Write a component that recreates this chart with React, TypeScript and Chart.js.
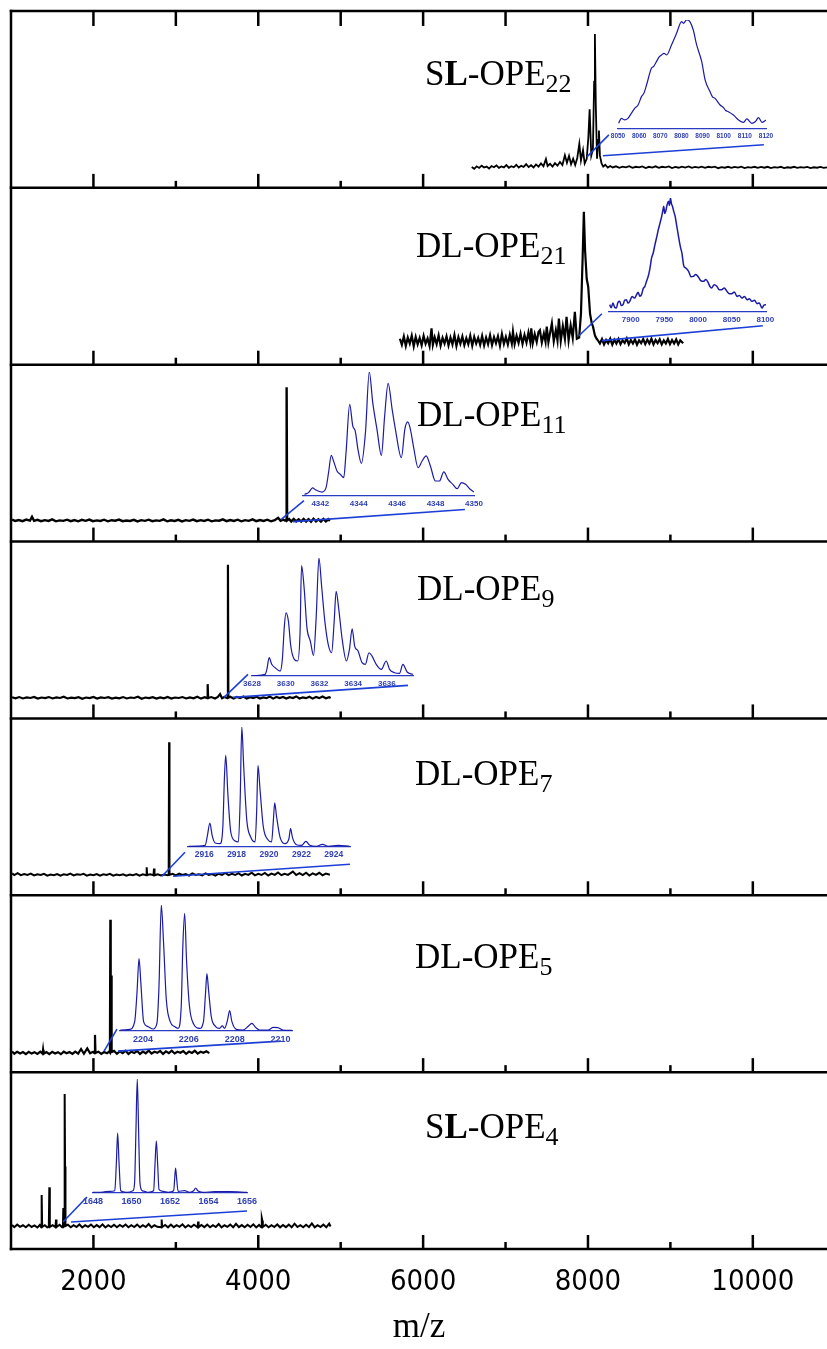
import { useEffect, useRef } from 'react';
import { Chart, registerables } from 'chart.js';

Chart.register(...registerables);

type Pt = [number, number];

// ---------- shared m/z axis ----------
const MZ_MIN = 1000;
const MZ_MAX = 10900;
const MZ_LABEL_TICKS = [2000, 4000, 6000, 8000, 10000];
const MZ_TICK_MARKS = [2000, 3000, 4000, 5000, 6000, 7000, 8000, 9000, 10000];

// relative intensity range used by every stacked panel
const INT_MIN = -12.5;
const INT_MAX = 100;

// ---------- sample names (top to bottom) ----------
const SAMPLE_PREFIX = ['S', 'D', 'D', 'D', 'D', 'D', 'S'];
const SAMPLE_N = ['22', '21', '11', '9', '7', '5', '4'];

// ---------- full-range spectra [m/z, relative intensity] ----------
const SPEC_SL22: Pt[] = [
  [6590, 0.8], [6620, -0.4], [6650, 1.2], [6680, 0.2], [6710, 1.6], [6740, 0.4], [6770, 1.0], [6800, -0.2],
  [6830, 1.4], [6860, 0.6], [6890, 1.8], [6920, 0.2], [6950, 1.1], [6980, 0.5], [7010, 2.0], [7040, 0.3],
  [7070, 1.3], [7100, 0.6], [7130, 2.2], [7160, 0.4], [7190, 1.5], [7220, 0.8], [7250, 2.6], [7280, 0.7],
  [7310, 1.9], [7340, 0.5], [7370, 2.4], [7400, 1.0], [7430, 3.0], [7460, 1.2], [7490, 5.8], [7510, 1.4],
  [7540, 2.8], [7570, 1.0], [7600, 3.2], [7630, 1.6], [7660, 4.0], [7690, 2.0], [7720, 8.2], [7745, 3.5],
  [7770, 7.8], [7795, 2.5], [7820, 6.0], [7845, 2.0], [7870, 6.5], [7895, 15.5], [7915, 5.0], [7940, 11.5],
  [7960, 3.0], [7985, 6.0], [8005, 20.0], [8020, 37.5], [8040, 8.0], [8060, 12.0], [8075, 55.0], [8084, 85.3],
  [8095, 40.0], [8110, 6.0], [8125, 18.0], [8133, 24.0], [8145, 8.0], [8165, 3.0], [8185, 1.0], [8210, 2.2],
  [8240, 0.4], [8270, 1.4], [8300, 0.5], [8340, 1.2], [8380, 0.3], [8420, 1.0], [8460, 0.5], [8500, 1.3],
  [8540, 0.2], [8580, 0.9], [8620, 0.5], [8660, 1.1], [8700, 0.1], [8740, 0.9], [8780, 0.4], [8820, 1.2],
  [8860, 0.2], [8900, 0.9], [8940, 0.5], [8980, 1.1], [9020, 0.1], [9060, 0.8], [9100, 0.3], [9140, 1.0],
  [9180, 0.4], [9220, 1.1], [9260, 0.2], [9300, 0.8], [9340, 0.4], [9380, 1.0], [9420, 0.2], [9460, 0.9],
  [9500, 0.5], [9540, 1.0], [9580, 0.0], [9620, 0.7], [9660, 0.3], [9700, 0.9], [9740, 0.2], [9780, 0.8],
  [9820, 0.4], [9860, 1.0], [9900, 0.1], [9940, 0.7], [9980, 0.4], [10020, 0.9], [10060, 0.2], [10100, 0.8],
  [10140, 0.3], [10180, 0.9], [10220, 0.1], [10260, 0.7], [10300, 0.4], [10340, 0.9], [10380, 0.1], [10420, 0.6],
  [10460, 0.3], [10500, 0.9], [10540, 0.2], [10580, 0.7], [10620, 0.4], [10660, 0.8], [10700, 0.1], [10740, 0.6],
  [10780, 0.3], [10820, 0.8], [10860, 0.2], [10900, 0.6],
];

const SPEC_DL21: Pt[] = [
  [5718, 4.0], [5742, 0.2], [5766, 5.5], [5790, -0.5], [5814, 4.8], [5838, 1.0], [5862, 6.0], [5886, -0.8],
  [5910, 5.2], [5934, 0.5], [5958, 4.5], [5982, -0.2], [6006, 5.8], [6030, 0.8], [6054, 4.2], [6078, -0.6],
  [6102, 10.6], [6118, 0.2], [6140, 5.0], [6164, 0.6], [6188, 6.2], [6212, -0.4], [6236, 4.6], [6260, 1.0],
  [6284, 5.6], [6308, -0.2], [6332, 4.8], [6356, 0.4], [6380, 6.4], [6404, -0.6], [6428, 5.0], [6452, 0.8],
  [6476, 5.4], [6500, 0.0], [6524, 4.4], [6548, 0.6], [6572, 6.0], [6596, -0.4], [6620, 5.2], [6644, 1.0],
  [6668, 4.6], [6692, 0.2], [6716, 5.8], [6740, -0.2], [6764, 4.8], [6788, 0.6], [6812, 6.2], [6836, 0.0],
  [6860, 5.0], [6884, 1.2], [6908, 5.6], [6932, -0.4], [6956, 7.0], [6980, 0.8], [7004, 5.2], [7028, 0.4],
  [7052, 6.6], [7076, 1.0], [7090, 8.5], [7110, 0.6], [7134, 6.0], [7158, 1.4], [7182, 7.2], [7206, 0.8],
  [7230, 6.4], [7254, 1.6], [7278, 8.0], [7300, 2.0], [7312, 10.6], [7330, 1.2], [7354, 7.0], [7378, 2.0],
  [7400, 8.4], [7417, 9.5], [7440, 1.6], [7465, 7.4], [7485, 2.2], [7500, 11.7], [7520, 1.8], [7545, 9.0],
  [7562, 13.8], [7585, 2.4], [7610, 9.5], [7630, 3.0], [7647, 16.9], [7670, 2.6], [7695, 12.0], [7720, 4.0],
  [7740, 18.0], [7765, 3.0], [7790, 12.5], [7815, 4.5], [7841, 21.2], [7865, 4.0], [7893, 4.8], [7915, 20.0],
  [7935, 55.0], [7950, 84.8], [7965, 60.0], [7985, 42.0], [8003, 37.1], [8025, 20.0], [8045, 14.0], [8061, 11.7],
  [8085, 6.0], [8105, 4.0], [8121, 3.0], [8145, 1.0], [8170, 3.8], [8195, 0.4], [8220, 3.2], [8245, 1.2],
  [8270, 4.0], [8295, 0.2], [8320, 3.4], [8345, 1.0], [8370, 3.8], [8395, 0.6], [8420, 3.0], [8445, 1.4],
  [8470, 4.2], [8495, 0.4], [8520, 3.2], [8545, 1.0], [8570, 3.6], [8595, 0.2], [8620, 3.0], [8645, 1.2],
  [8670, 3.8], [8695, 0.6], [8720, 3.4], [8745, 1.0], [8770, 4.0], [8795, 0.4], [8820, 3.2], [8845, 1.2],
  [8870, 3.6], [8895, 0.4], [8920, 3.0], [8945, 1.0], [8970, 3.8], [8995, 0.6], [9020, 3.2], [9045, 1.0],
  [9070, 3.6], [9095, 0.4], [9120, 3.0], [9155, 1.2],
];

const SPEC_DL11: Pt[] = [
  [1013, 1.4], [1050, 0.6], [1095, 1.2], [1140, 0.5], [1185, 1.5], [1230, 0.8], [1255, 3.2], [1280, 0.7],
  [1320, 1.3], [1365, 0.5], [1410, 1.1], [1455, 0.6], [1500, 1.6], [1545, 0.4], [1590, 1.0], [1635, 0.7],
  [1680, 1.4], [1725, 0.5], [1770, 1.2], [1815, 0.4], [1860, 1.3], [1905, 0.7], [1950, 1.5], [1995, 0.5],
  [2040, 1.0], [2085, 0.6], [2130, 1.4], [2175, 0.4], [2220, 1.1], [2265, 0.8], [2310, 1.5], [2355, 0.5],
  [2400, 0.9], [2445, 0.6], [2490, 1.3], [2535, 0.3], [2580, 1.1], [2625, 0.7], [2670, 1.4], [2715, 0.5],
  [2760, 1.0], [2805, 0.7], [2850, 1.6], [2895, 0.4], [2940, 1.0], [2985, 0.6], [3030, 1.3], [3075, 0.3],
  [3120, 1.1], [3165, 0.7], [3210, 1.5], [3255, 0.5], [3300, 1.1], [3345, 0.6], [3390, 1.4], [3435, 0.4],
  [3480, 1.0], [3525, 0.8], [3570, 1.6], [3615, 0.5], [3660, 1.2], [3705, 0.6], [3750, 1.4], [3795, 0.4],
  [3840, 1.1], [3885, 0.7], [3930, 1.6], [3975, 0.5], [4020, 1.2], [4065, 0.6], [4110, 1.4], [4155, 0.4],
  [4200, 1.1], [4241, 2.6], [4270, 0.7], [4300, 1.5], [4325, 0.8], [4338, 1.3], [4344, 85.6], [4350, 0.9],
  [4375, 1.8], [4400, 0.3], [4430, 1.9], [4460, 0.4], [4490, 1.7], [4520, 0.2], [4550, 1.9], [4580, 0.3],
  [4610, 1.8], [4640, 0.1], [4670, 2.0], [4700, 0.4], [4730, 1.6], [4760, 0.2], [4790, 1.9], [4820, 0.3],
  [4850, 1.7], [4869, 0.7],
];

const SPEC_DL9: Pt[] = [
  [1013, 1.0], [1055, 0.3], [1100, 1.1], [1145, 0.2], [1190, 0.9], [1235, 0.5], [1280, 1.2], [1325, 0.1],
  [1370, 0.8], [1415, 0.4], [1460, 1.1], [1505, 0.2], [1550, 0.9], [1595, 0.5], [1640, 1.3], [1685, 0.2],
  [1730, 0.7], [1775, 0.4], [1820, 1.0], [1865, 0.0], [1910, 0.8], [1955, 0.4], [2000, 1.2], [2045, 0.2],
  [2090, 0.9], [2135, 0.5], [2180, 1.0], [2225, 0.1], [2270, 0.7], [2315, 0.3], [2360, 1.1], [2405, 0.2],
  [2450, 0.8], [2495, 0.5], [2540, 1.3], [2585, 0.0], [2630, 0.8], [2675, 0.4], [2720, 1.0], [2765, 0.1],
  [2810, 0.9], [2855, 0.3], [2900, 1.2], [2945, 0.1], [2990, 0.8], [3035, 0.5], [3080, 1.1], [3125, 0.2],
  [3170, 0.9], [3215, 0.3], [3260, 1.3], [3305, 0.1], [3350, 1.0], [3380, 0.4], [3386, 9.3], [3392, 0.5],
  [3430, 1.1], [3475, 0.2], [3510, 1.2], [3536, 3.0], [3560, 0.3], [3590, 1.1], [3620, 0.5], [3627, 0.9],
  [3632, 85.2], [3637, 0.7], [3660, 1.3], [3700, 0.2], [3740, 1.1], [3780, 0.4], [3820, 1.4], [3860, 0.1],
  [3900, 1.0], [3940, 0.5], [3980, 1.3], [4020, 0.2], [4060, 0.9], [4100, 0.4], [4140, 1.4], [4180, 0.1],
  [4220, 1.1], [4260, 0.4], [4300, 1.2], [4340, 0.2], [4380, 1.0], [4420, 0.5], [4460, 1.5], [4500, 0.2],
  [4540, 0.9], [4580, 0.4], [4620, 1.3], [4660, 0.1], [4700, 1.1], [4740, 0.4], [4780, 1.4], [4820, 0.3],
  [4860, 1.0], [4878, 0.5],
];

const SPEC_DL7: Pt[] = [
  [1013, 1.4], [1040, 0.4], [1080, 1.6], [1120, 0.3], [1160, 1.0], [1200, 0.5], [1240, 1.3], [1280, 0.1],
  [1320, 0.8], [1360, 0.4], [1400, 1.1], [1440, 0.0], [1480, 0.7], [1520, 0.3], [1560, 1.0], [1600, 0.0],
  [1640, 0.8], [1680, 0.4], [1720, 1.3], [1760, 0.1], [1800, 0.8], [1840, 0.5], [1880, 1.1], [1920, 0.0],
  [1960, 0.7], [2000, 0.3], [2040, 1.0], [2080, 0.0], [2120, 0.8], [2160, 0.4], [2200, 1.1], [2240, 0.0],
  [2280, 0.7], [2320, 0.3], [2360, 0.9], [2400, 0.0], [2440, 0.7], [2480, 0.3], [2520, 1.0], [2560, 0.0],
  [2600, 0.8], [2640, 0.3], [2646, 5.3], [2652, 0.4], [2690, 0.8], [2729, 0.3], [2735, 4.5], [2741, 0.2],
  [2780, 0.9], [2820, 0.1], [2860, 0.7], [2900, 0.3], [2913, 0.6], [2918, 84.8], [2923, 0.5], [2960, 1.1],
  [3000, 0.2], [3040, 1.3], [3080, 0.4], [3120, 1.0], [3160, 0.0], [3200, 1.4], [3240, 0.4], [3280, 0.9],
  [3320, 0.2], [3360, 1.5], [3400, 0.5], [3440, 1.0], [3480, 0.0], [3520, 1.2], [3560, 0.4], [3600, 1.7],
  [3640, 0.3], [3680, 1.1], [3720, 0.4], [3760, 1.6], [3800, 0.1], [3840, 1.2], [3880, 0.5], [3920, 1.9],
  [3960, 0.2], [4000, 1.1], [4040, 0.4], [4080, 1.7], [4120, 0.1], [4160, 1.3], [4200, 0.5], [4240, 2.0],
  [4280, 0.3], [4320, 1.2], [4360, 0.5], [4420, 2.6], [4460, 0.4], [4500, 1.6], [4540, 0.4], [4580, 1.9],
  [4620, 0.1], [4660, 1.4], [4700, 0.5], [4740, 1.8], [4780, 0.2], [4820, 1.3], [4869, 0.6],
];

const SPEC_DL5: Pt[] = [
  [1013, 0.6], [1040, -0.8], [1075, 0.5], [1110, -0.6], [1145, 0.3], [1180, -1.0], [1215, 0.4], [1250, -0.7],
  [1285, 0.2], [1320, -0.9], [1355, 0.5], [1383, -0.7], [1389, 1.8], [1395, -0.8], [1430, 0.3], [1465, -1.0],
  [1500, 0.4], [1535, -0.6], [1570, 0.2], [1605, -1.1], [1640, 0.5], [1675, -0.5], [1710, 0.3], [1745, -0.9],
  [1780, 0.6], [1815, -0.7], [1850, 2.2], [1885, -0.8], [1925, 2.6], [1960, -0.5], [1995, 0.4], [2013, -0.4],
  [2019, 11.2], [2025, -0.3], [2060, 0.5], [2095, -0.9], [2130, 0.3], [2165, -0.5], [2190, 0.6], [2200, 0.0],
  [2205, 84.4], [2210, 6.0], [2215, 49.0], [2221, 0.3], [2250, 1.0], [2285, -0.8], [2320, 0.7], [2355, -0.4],
  [2390, 1.1], [2425, -0.9], [2460, 0.5], [2495, -0.3], [2530, 0.9], [2565, -0.9], [2600, 0.6], [2635, -0.5],
  [2670, 1.2], [2705, -0.7], [2740, 0.5], [2775, -0.2], [2810, 1.0], [2845, -0.9], [2880, 0.7], [2915, -0.4],
  [2950, 1.1], [2985, -0.6], [3020, 0.5], [3055, -0.2], [3090, 0.9], [3125, -0.8], [3160, 0.6], [3195, -0.3],
  [3230, 1.1], [3265, -0.7], [3300, 0.5], [3335, -0.2], [3370, 0.8], [3406, -0.4],
];

const SPEC_SL4: Pt[] = [
  [1013, 2.8], [1040, 1.4], [1075, 3.0], [1110, 1.6], [1145, 2.6], [1180, 1.3], [1215, 2.9], [1250, 1.5],
  [1285, 2.5], [1320, 1.2], [1350, 2.8], [1366, 1.4], [1372, 21.8], [1378, 1.5], [1410, 2.6], [1440, 1.3],
  [1459, 1.8], [1465, 26.7], [1471, 1.6], [1505, 2.7], [1540, 1.4], [1546, 6.2], [1552, 1.5], [1590, 2.9],
  [1620, 1.3], [1630, 1.7], [1635, 13.6], [1640, 1.9], [1646, 2.0], [1651, 86.1], [1656, 40.0], [1661, 2.2],
  [1690, 2.9], [1725, 1.3], [1760, 2.7], [1795, 1.5], [1830, 3.1], [1865, 1.2], [1900, 2.6], [1935, 1.6],
  [1970, 3.0], [2005, 1.3], [2040, 2.7], [2075, 1.4], [2110, 3.2], [2145, 1.2], [2180, 2.6], [2215, 1.5],
  [2250, 2.9], [2285, 1.3], [2320, 2.8], [2355, 1.6], [2390, 3.1], [2425, 1.3], [2460, 2.6], [2495, 1.5],
  [2530, 3.0], [2565, 1.3], [2600, 2.7], [2635, 1.5], [2670, 3.4], [2705, 1.3], [2740, 2.6], [2775, 1.6],
  [2822, 1.4], [2828, 6.2], [2834, 1.5], [2870, 2.8], [2905, 1.3], [2940, 3.0], [2975, 1.4], [3010, 2.7],
  [3045, 1.6], [3080, 3.2], [3115, 1.2], [3150, 2.6], [3185, 1.5], [3220, 2.9], [3264, 1.3], [3270, 5.0],
  [3276, 1.4], [3310, 2.8], [3345, 1.4], [3380, 3.0], [3415, 1.3], [3450, 2.7], [3485, 1.5], [3520, 3.4],
  [3555, 1.3], [3590, 2.6], [3625, 1.6], [3660, 3.0], [3695, 1.3], [3730, 3.5], [3765, 1.4], [3800, 2.7],
  [3835, 1.3], [3870, 2.9], [3905, 1.5], [3940, 3.2], [3975, 1.2], [4010, 2.8], [4037, 1.4], [4043, 7.0],
  [4049, 5.5], [4055, 1.5], [4090, 2.9], [4125, 1.3], [4160, 2.7], [4195, 1.5], [4230, 3.1], [4265, 1.3],
  [4300, 2.8], [4335, 1.4], [4370, 3.0], [4405, 1.3], [4440, 3.6], [4475, 1.5], [4510, 2.7], [4545, 1.3],
  [4580, 2.9], [4615, 1.4], [4650, 3.8], [4685, 1.3], [4720, 2.7], [4755, 1.5], [4790, 3.0], [4825, 1.3],
  [4860, 3.6], [4877, 1.8],
];

// ---------- expanded views of the main peak [m/z, % of peak] ----------
const ZOOM_SL22: Pt[] = [
  [8050.3, 5.2], [8051.6, 9.8], [8053.2, 8.3], [8054.7, 9.8], [8056.3, 14.4], [8057.9, 19.0], [8059.5, 22.0],
  [8061.1, 29.7], [8062.3, 33.0], [8063.5, 40.4], [8065.8, 55.7], [8066.9, 57.5], [8068.2, 61.8], [8069.4, 66.0],
  [8070.6, 67.9], [8071.8, 69.4], [8073.0, 67.9], [8075.3, 77.1], [8077.7, 87.8], [8080.1, 98.5], [8080.9, 96.9],
  [8082.5, 100], [8084.0, 98.5], [8085.6, 90.8], [8087.2, 77.1], [8089.6, 61.8], [8091.2, 45.0], [8093.5, 34.3],
  [8094.7, 29.5], [8095.9, 28.1], [8098.3, 22.0], [8099.9, 19.6], [8100.9, 17.0], [8102.2, 15.9], [8104.6, 12.8],
  [8107.0, 8.3], [8109.4, 6.1], [8110.9, 9.2], [8113.3, 5.2], [8114.9, 6.7], [8116.5, 10.4], [8118.1, 6.1],
  [8120.0, 8.3],
];

const ZOOM_DL21: Pt[] = [
  [7868.7, 6.4], [7871.0, 3.8], [7873.6, 7.9], [7876.0, 4.2], [7878.6, 3.5], [7881.0, 8.5], [7883.6, 9.4],
  [7886.0, 5.6], [7888.6, 6.4], [7891.0, 10.5], [7893.5, 10.8], [7896.0, 7.8], [7898.5, 9.4], [7902.0, 13.5],
  [7906.0, 12.3], [7908.5, 15.0], [7911.0, 17.3], [7913.5, 13.8], [7916.0, 15.2], [7918.5, 20.5], [7921.0, 22.5],
  [7923.5, 27.0], [7926.0, 31.3], [7928.5, 38.0], [7931.0, 47.4], [7933.5, 52.0], [7936.0, 59.1], [7938.5, 65.5],
  [7941.0, 72.2], [7943.5, 78.0], [7946.0, 83.9], [7948.0, 90.0], [7949.0, 92.7], [7950.5, 86.5], [7952.0, 88.3],
  [7954.0, 94.0], [7956.0, 97.1], [7957.5, 93.5], [7959.0, 100], [7960.5, 95.0], [7962.0, 92.7], [7964.0, 88.0],
  [7966.0, 83.9], [7968.5, 75.0], [7971.0, 66.4], [7973.5, 58.0], [7976.0, 51.8], [7979.0, 40.1], [7982.0, 38.5],
  [7986.0, 35.7], [7989.5, 31.0], [7993.0, 31.3], [7996.5, 33.0], [8000.5, 30.7], [8004.0, 27.5], [8008.0, 26.9],
  [8011.5, 28.5], [8015.4, 25.4], [8018.0, 22.0], [8020.0, 21.1], [8024.0, 24.0], [8028.0, 22.5], [8031.5, 19.5],
  [8035.0, 19.6], [8039.0, 21.0], [8043.0, 18.1], [8046.5, 16.0], [8050.0, 16.1], [8054.0, 17.5], [8058.0, 13.7],
  [8061.5, 14.5], [8065.0, 12.3], [8069.0, 13.5], [8073.0, 10.8], [8076.5, 11.6], [8080.0, 9.4], [8084.0, 10.2],
  [8087.6, 7.3], [8091.0, 8.0], [8095.0, 3.5], [8098.0, 6.0], [8101.0, 6.4],
];

const ZOOM_DL11: Pt[] = [
  [4341.18, 1.3], [4341.39, 2.7], [4341.6, 6.5], [4341.77, 4.8], [4342.09, 3.2], [4342.3, 6.7], [4342.43, 18.8],
  [4342.57, 32.8], [4342.69, 28.2], [4342.87, 20.2], [4343.04, 17.5], [4343.22, 14.8], [4343.34, 34.9],
  [4343.53, 73.9], [4343.69, 56.5], [4343.82, 52.4], [4343.96, 37.6], [4344.14, 26.3], [4344.35, 51.1],
  [4344.55, 100], [4344.73, 75.3], [4344.95, 53.8], [4345.18, 32.8], [4345.35, 64.5], [4345.53, 90.9],
  [4345.74, 69.9], [4345.91, 53.8], [4346.22, 30.9], [4346.4, 53.8], [4346.55, 59.7], [4346.69, 53.8],
  [4346.86, 39.0], [4347.09, 22.8], [4347.3, 28.2], [4347.51, 32.3], [4347.73, 24.2], [4347.99, 12.1],
  [4348.2, 12.1], [4348.43, 19.4], [4348.65, 13.4], [4348.9, 9.4], [4349.12, 5.9], [4349.35, 10.8],
  [4349.56, 9.4], [4349.77, 5.9], [4350.0, 3.2],
];

const ZOOM_DL9: Pt[] = [
  [3628.03, 0], [3628.39, 0.6], [3628.78, 1.4], [3628.88, 5.6], [3629.02, 15.5], [3629.17, 9.9], [3629.37, 7.0],
  [3629.67, 4.2], [3629.8, 14.1], [3629.92, 42.3], [3630.02, 53.5], [3630.16, 46.5], [3630.3, 25.4],
  [3630.51, 14.1], [3630.71, 12.7], [3630.85, 36.6], [3630.94, 93.5], [3631.1, 73.2], [3631.26, 40.8],
  [3631.46, 29.6], [3631.65, 17.5], [3631.81, 50.7], [3631.97, 100], [3632.13, 76.1], [3632.32, 46.5],
  [3632.52, 26.8], [3632.72, 19.7], [3632.87, 45.1], [3632.99, 71.8], [3633.15, 56.3], [3633.35, 31.0],
  [3633.6, 12.7], [3633.78, 22.5], [3633.94, 40.0], [3634.09, 25.4], [3634.29, 21.1], [3634.53, 11.3],
  [3634.72, 9.9], [3634.94, 19.7], [3635.12, 16.9], [3635.37, 9.9], [3635.67, 5.6], [3635.96, 12.7],
  [3636.16, 5.6], [3636.46, 2.8], [3636.75, 2.3], [3636.95, 9.9], [3637.2, 3.4], [3637.54, 1.4],
];

const ZOOM_DL7: Pt[] = [
  [2915.04, 0.6], [2916.06, 1.4], [2916.2, 9.7], [2916.35, 20], [2916.49, 9.7], [2916.68, 3.3], [2916.98, 2.8],
  [2917.15, 16.7], [2917.25, 58.3], [2917.33, 76.4], [2917.46, 44.4], [2917.64, 12.5], [2917.91, 5],
  [2918.11, 4.2], [2918.22, 38.9], [2918.32, 100], [2918.44, 66.7], [2918.63, 22.2], [2918.87, 8.3],
  [2919.14, 4.2], [2919.24, 30.6], [2919.32, 68.1], [2919.45, 47.2], [2919.65, 16.7], [2919.96, 5.6],
  [2920.16, 4.2], [2920.27, 22.2], [2920.35, 36.7], [2920.47, 25], [2920.68, 8.3], [2920.98, 2.8],
  [2921.23, 6.9], [2921.33, 15.3], [2921.45, 7.8], [2921.7, 1.9], [2922.01, 1.4], [2922.28, 4.7],
  [2922.52, 1.4], [2922.93, 0.6], [2923.3, 2.2], [2923.65, 0.6], [2924.27, 1.4], [2924.98, 0.6],
];

const ZOOM_DL5: Pt[] = [
  [2203.01, 0.8], [2203.42, 1.3], [2203.64, 7.4], [2203.74, 30.1], [2203.83, 57.4], [2203.91, 38.0],
  [2204.03, 7.4], [2204.22, 3.5], [2204.44, 1.6], [2204.61, 6.1], [2204.7, 35.4], [2204.8, 100], [2204.9, 69.9],
  [2205.02, 24.7], [2205.19, 7.4], [2205.38, 3.5], [2205.53, 2.1], [2205.67, 19.4], [2205.74, 67.3],
  [2205.82, 93.4], [2205.9, 56.6], [2206.03, 19.4], [2206.21, 5.6], [2206.47, 2.1], [2206.64, 7.4],
  [2206.73, 30.1], [2206.79, 45.5], [2206.86, 32.7], [2206.98, 11.4], [2207.17, 3.5], [2207.34, 2.1],
  [2207.46, 4.0], [2207.56, 2.1], [2207.69, 8.8], [2207.78, 16.2], [2207.88, 7.4], [2208.07, 1.3],
  [2208.36, 0.8], [2208.58, 3.5], [2208.75, 6.1], [2208.91, 2.9], [2209.08, 0.8], [2209.45, 0.8],
  [2209.69, 2.9], [2209.88, 2.7], [2210.1, 0.8], [2210.49, 0.5],
];

const ZOOM_SL4: Pt[] = [
  [1648.0, 0.6], [1648.52, 0.9], [1648.87, 1.5], [1649.13, 2.0], [1649.21, 24.8], [1649.28, 52.5],
  [1649.35, 27.7], [1649.44, 2.0], [1649.73, 0.6], [1650.08, 2.0], [1650.16, 8.7], [1650.23, 53.9],
  [1650.3, 100], [1650.37, 53.9], [1650.44, 8.7], [1650.56, 2.0], [1650.68, 1.5], [1650.86, 0.6],
  [1651.15, 2.0], [1651.22, 24.8], [1651.29, 45.8], [1651.36, 24.8], [1651.43, 2.9], [1651.64, 1.5],
  [1651.9, 0.6], [1652.19, 2.0], [1652.24, 11.7], [1652.29, 21.9], [1652.35, 11.7], [1652.42, 1.5],
  [1652.76, 2.0], [1653.02, 0.6], [1653.23, 2.0], [1653.33, 4.4], [1653.44, 2.0], [1653.71, 0.6],
  [1654.32, 1.2], [1655.1, 1.2], [1656.0, 0.6],
];

// m/z range and labelled ticks of each expanded view
const ZOOM_RANGE: Pt[] = [
  [8050, 8120], [7867.7, 8101], [4341.1, 4350.0], [3628.0, 3637.55], [2915.0, 2925.0], [2203.0, 2210.5], [1648.0, 1656.0],
];
const ZOOM_TICKS_SL22 = [8050, 8060, 8070, 8080, 8090, 8100, 8110, 8120];
const ZOOM_TICKS_DL21 = [7900, 7950, 8000, 8050, 8100];
const ZOOM_TICKS_DL11 = [4342, 4344, 4346, 4348, 4350];
const ZOOM_TICKS_DL9 = [3628, 3630, 3632, 3634, 3636];
const ZOOM_TICKS_DL7 = [2916, 2918, 2920, 2922, 2924];
const ZOOM_TICKS_DL5 = [2204, 2206, 2208, 2210];
const ZOOM_TICKS_SL4 = [1648, 1650, 1652, 1654, 1656];

// guide lines from the peak foot to the expanded view, in panel coordinates [m/z, intensity]
const GUIDES_SL22: Pt[][] = [[[7987, 7.2], [8254, 21.2]], [[8181, 7.9], [10134, 14.9]]];
const GUIDES_DL21: Pt[][] = [[[7890, 5.9], [8169, 19.9]], [[8169, 2.8], [10121, 12.3]]];
const GUIDES_DL11: Pt[][] = [[[4275, 1.5], [4554, 13.6]], [[4421, 0.2], [6507, 7.9]]];
const GUIDES_DL9: Pt[][] = [[[3584, 0.9], [3875, 15.5]], [[3693, 0.9], [5816, 8.5]]];
const GUIDES_DL7: Pt[][] = [[[2832, -0.4], [3111, 14.9]], [[2966, -0.4], [5112, 7.2]]];
const GUIDES_DL5: Pt[][] = [[[2129, 0.9], [2286, 14.9]], [[2298, 0.9], [4275, 7.2]]];
const GUIDES_SL4: Pt[][] = [[[1631, 4.7], [1922, 20.6]], [[1728, 4.7], [3863, 11.7]]];

const SPECTRA = [SPEC_SL22, SPEC_DL21, SPEC_DL11, SPEC_DL9, SPEC_DL7, SPEC_DL5, SPEC_SL4];
const ZOOMS = [ZOOM_SL22, ZOOM_DL21, ZOOM_DL11, ZOOM_DL9, ZOOM_DL7, ZOOM_DL5, ZOOM_SL4];
const ZOOM_TICKS = [ZOOM_TICKS_SL22, ZOOM_TICKS_DL21, ZOOM_TICKS_DL11, ZOOM_TICKS_DL9, ZOOM_TICKS_DL7, ZOOM_TICKS_DL5, ZOOM_TICKS_SL4];
const GUIDES = [GUIDES_SL22, GUIDES_DL21, GUIDES_DL11, GUIDES_DL9, GUIDES_DL7, GUIDES_DL5, GUIDES_SL4];

// ---------- layout & style ----------
const W = 827;
const H = 1349;
const PAD_LEFT = 11;
const PAD_TOP = 11;
const AXIS_BAND = 100;
const FRAME_W = 2.5;
const TICK_MAJOR = 14;
const TICK_MINOR = 7;
const TICK_TOP = 15;
const SERIF = "'Liberation Serif', 'Times New Roman', serif";
const SANS_NARROW = "'DejaVu Sans Condensed', 'Liberation Sans', Arial, sans-serif";
const SANS = "'Liberation Sans', Arial, sans-serif";
const CURVE_BLUE = '#1b1ba6';
const AXIS_BLUE = '#2b3cc4';
const LABEL_BLUE = '#3140b4';
const GUIDE_BLUE = '#1c3fd6';
const SPEC_WIDTH = [1.8, 2.2, 2.4, 2.2, 2.0, 2.2, 2.0];

// sample title: left x and baseline height above the panel floor
const TITLE_POS = [
  { x: 425, up: 103 }, { x: 416, up: 108 }, { x: 417, up: 116 }, { x: 417, up: 118 },
  { x: 415, up: 110 }, { x: 415, up: 104 }, { x: 425, up: 111 },
];

// expanded views: axis pixel span, axis and peak heights above panel floor, label size
const ZOOM_BOX = [
  { left: 618, right: 766, axisUp: 58.7, peakUp: 167.7, font: 6.5 },
  { left: 609, right: 766, axisUp: 52.3, peakUp: 166.3, font: 8 },
  { left: 303, right: 474, axisUp: 46, peakUp: 170, font: 8 },
  { left: 252, right: 413, axisUp: 42.3, peakUp: 160.7, font: 8 },
  { left: 188, right: 350, axisUp: 48, peakUp: 168, font: 8.5 },
  { left: 120, right: 292, axisUp: 41.3, peakUp: 166.7, font: 9 },
  { left: 93, right: 247, axisUp: 55.7, peakUp: 170, font: 9 },
];
const ZOOM_PAD_X = 16;
const ZOOM_PAD_TOP = 4;
const ZOOM_AXIS_H = 16;

const toXY = (pts: Pt[]) => pts.map(([x, y]) => ({ x, y }));

const framePlugin = {
  id: 'panelFrame',
  beforeDatasetsDraw(chart: any) {
    const { ctx, chartArea } = chart;
    const xs = chart.scales.x;
    ctx.save();
    ctx.strokeStyle = '#000';
    ctx.lineWidth = FRAME_W;
    ctx.lineCap = 'butt';
    const line = (x1: number, y1: number, x2: number, y2: number) => {
      ctx.beginPath();
      ctx.moveTo(x1, y1);
      ctx.lineTo(x2, y2);
      ctx.stroke();
    };
    line(chartArea.left, chartArea.top - FRAME_W / 2, chartArea.left, chartArea.bottom + FRAME_W / 2);
    SPECTRA.forEach((_, i) => {
      const ys = chart.scales['y' + i];
      line(chartArea.left - FRAME_W / 2, ys.bottom, chartArea.right, ys.bottom);
      MZ_TICK_MARKS.forEach((v) => {
        const x = xs.getPixelForValue(v);
        const len = MZ_LABEL_TICKS.includes(v) ? TICK_MAJOR : TICK_MINOR;
        line(x, ys.bottom, x, ys.bottom - len);
      });
      if (i === 0) {
        line(chartArea.left - FRAME_W / 2, ys.top, chartArea.right, ys.top);
        MZ_TICK_MARKS.forEach((v) => {
          const x = xs.getPixelForValue(v);
          line(x, ys.top, x, ys.top + TICK_TOP);
        });
      }
    });
    ctx.restore();
  },
};

const titlePlugin = {
  id: 'sampleTitles',
  afterDraw(chart: any) {
    const { ctx } = chart;
    ctx.save();
    ctx.fillStyle = '#000';
    ctx.textBaseline = 'alphabetic';
    ctx.textAlign = 'left';
    SAMPLE_PREFIX.forEach((prefix, i) => {
      const ys = chart.scales['y' + i];
      const pos = TITLE_POS[i];
      const base = ys.bottom - pos.up;
      const parts = [
        { t: prefix, bold: false, sub: false },
        { t: 'L', bold: prefix === 'S', sub: false },
        { t: '-OPE', bold: false, sub: false },
        { t: SAMPLE_N[i], bold: false, sub: true },
      ];
      let x = pos.x;
      parts.forEach((p) => {
        ctx.font = `${p.bold ? 'bold ' : ''}${p.sub ? 26 : 35}px ${SERIF}`;
        ctx.fillText(p.t, x, base + (p.sub ? 7 : 0));
        x += ctx.measureText(p.t).width;
      });
    });
    ctx.restore();
  },
};

function buildMainConfig(): any {
  const datasets: any[] = [];
  const scales: any = {
    x: {
      type: 'linear',
      position: 'bottom',
      min: MZ_MIN,
      max: MZ_MAX,
      afterBuildTicks: (s: any) => {
        s.ticks = MZ_LABEL_TICKS.map((v) => ({ value: v }));
      },
      afterFit: (s: any) => {
        s.height = AXIS_BAND;
      },
      grid: { display: false, drawTicks: false },
      border: { display: false },
      ticks: {
        callback: (v: any) => String(v),
        font: { family: SANS_NARROW, size: 29 },
        color: '#000',
        padding: 16,
        maxRotation: 0,
        autoSkip: false,
      },
      title: {
        display: true,
        text: 'm/z',
        font: { family: SERIF, size: 35 },
        color: '#000',
        padding: { top: 0, bottom: 0 },
      },
    },
  };
  SPECTRA.forEach((spec, i) => {
    const yId = 'y' + i;
    scales[yId] = {
      type: 'linear',
      position: 'left',
      stack: 'panels',
      stackWeight: 1,
      weight: SPECTRA.length - i,
      min: INT_MIN,
      max: INT_MAX,
      afterFit: (s: any) => {
        s.width = 0;
      },
      grid: { display: false, drawTicks: false },
      border: { display: false },
      ticks: { display: false },
    };
    GUIDES[i].forEach((seg) => {
      datasets.push({
        data: toXY(seg),
        xAxisID: 'x',
        yAxisID: yId,
        borderColor: GUIDE_BLUE,
        borderWidth: 1.6,
        pointRadius: 0,
        fill: false,
      });
    });
    datasets.push({
      data: toXY(spec),
      xAxisID: 'x',
      yAxisID: yId,
      borderColor: '#000',
      borderWidth: SPEC_WIDTH[i],
      pointRadius: 0,
      tension: 0,
      fill: false,
    });
  });
  return {
    type: 'line',
    data: { datasets },
    options: {
      responsive: false,
      animation: false,
      events: [],
      layout: { padding: { left: PAD_LEFT, top: PAD_TOP, right: 0, bottom: 0 } },
      plugins: { legend: { display: false }, tooltip: { enabled: false } },
      scales,
    },
    plugins: [framePlugin, titlePlugin],
  };
}

function buildZoomConfig(i: number): any {
  const box = ZOOM_BOX[i];
  return {
    type: 'line',
    data: {
      datasets: [
        {
          data: toXY(ZOOMS[i]),
          borderColor: CURVE_BLUE,
          borderWidth: i === 1 ? 1.5 : 1.2,
          pointRadius: 0,
          cubicInterpolationMode: 'monotone',
          fill: false,
        },
      ],
    },
    options: {
      responsive: false,
      animation: false,
      events: [],
      layout: { padding: { left: ZOOM_PAD_X, right: ZOOM_PAD_X, top: ZOOM_PAD_TOP, bottom: 0 } },
      plugins: { legend: { display: false }, tooltip: { enabled: false } },
      scales: {
        x: {
          type: 'linear',
          position: 'bottom',
          min: ZOOM_RANGE[i][0],
          max: ZOOM_RANGE[i][1],
          afterBuildTicks: (s: any) => {
            s.ticks = ZOOM_TICKS[i].map((v) => ({ value: v }));
          },
          afterFit: (s: any) => {
            s.height = ZOOM_AXIS_H;
          },
          grid: { display: false, drawTicks: false },
          border: { display: true, color: AXIS_BLUE, width: 1.3 },
          ticks: {
            callback: (v: any) => String(v),
            font: { family: SANS, size: box.font, weight: 'bold' },
            color: LABEL_BLUE,
            padding: 3,
            maxRotation: 0,
            autoSkip: false,
          },
        },
        y: { type: 'linear', min: 0, max: 100, display: false },
      },
    },
  };
}

export default function App() {
  const mainRef = useRef<HTMLCanvasElement | null>(null);
  const zoomRefs = useRef<(HTMLCanvasElement | null)[]>([]);

  useEffect(() => {
    const charts: Chart[] = [];
    const main = new Chart(mainRef.current as HTMLCanvasElement, buildMainConfig());
    charts.push(main);
    ZOOM_BOX.forEach((box, i) => {
      const cv = zoomRefs.current[i];
      if (!cv) return;
      const floor = (main.scales as any)['y' + i].bottom as number;
      const axisY = Math.round(floor - box.axisUp);
      const top = Math.round(floor - box.peakUp) - ZOOM_PAD_TOP;
      const w = box.right - box.left + 2 * ZOOM_PAD_X;
      const h = axisY - top + ZOOM_AXIS_H;
      cv.width = w;
      cv.height = h;
      cv.style.left = `${box.left - ZOOM_PAD_X}px`;
      cv.style.top = `${top}px`;
      cv.style.width = `${w}px`;
      cv.style.height = `${h}px`;
      charts.push(new Chart(cv, buildZoomConfig(i)));
    });
    return () => charts.forEach((c) => c.destroy());
  }, []);

  return (
    <div
      style={{
        position: 'absolute',
        left: 0,
        top: 0,
        width: W,
        height: H,
        overflow: 'hidden',
        background: '#fff',
      }}
    >
      <canvas
        ref={mainRef}
        width={W}
        height={H}
        style={{ position: 'absolute', left: 0, top: 0, width: W, height: H }}
      />
      {ZOOM_BOX.map((_, i) => (
        <canvas
          key={i}
          ref={(el) => {
            zoomRefs.current[i] = el;
          }}
          style={{ position: 'absolute', left: 0, top: 0 }}
        />
      ))}
    </div>
  );
}
